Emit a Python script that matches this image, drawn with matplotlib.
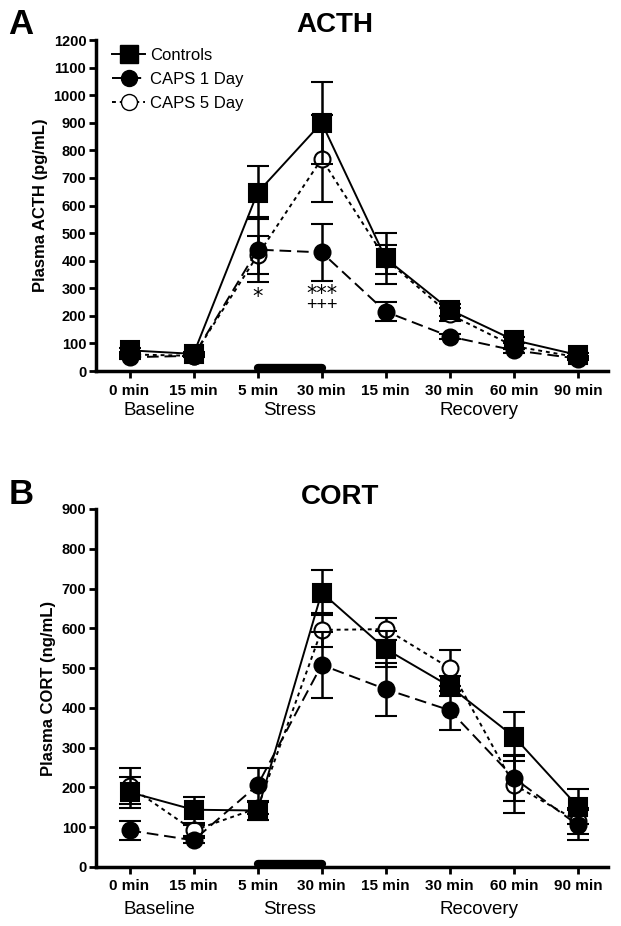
import matplotlib.pyplot as plt
from matplotlib.lines import Line2D

plt.rcParams['font.family'] = ['Liberation Sans', 'DejaVu Sans']

# sample times and phase labels
timepoints = ["0 min", "15 min", "5 min", "30 min", "15 min", "30 min", "60 min", "90 min"]
phases = ["Baseline", "Stress", "Recovery"]
phase_pos = [0.47, 2.5, 5.46]
stress_span = [2, 3]

# ACTH (pg/mL)
acth_ctrl = [75, 62, 647, 900, 408, 222, 112, 58]
acth_ctrl_err = [10, 6, 97, 149, 93, 22, 12, 8]
acth_caps1 = [50, 55, 440, 430, 215, 125, 75, 45]
acth_caps1_err = [8, 6, 118, 103, 35, 10, 8, 5]
acth_caps5 = [60, 55, 420, 769, 405, 205, 90, 50]
acth_caps5_err = [8, 6, 70, 158, 52, 25, 10, 6]

# CORT (ng/mL)
cort_ctrl = [188, 144, 142, 690, 548, 454, 328, 152]
cort_ctrl_err = [39, 33, 25, 57, 46, 25, 61, 45]
cort_caps1 = [92, 67, 206, 508, 447, 394, 224, 105]
cort_caps1_err = [24, 6, 43, 84, 67, 49, 57, 38]
cort_caps5 = [203, 92, 148, 596, 598, 500, 207, 115]
cort_caps5_err = [45, 14, 15, 42, 27, 46, 71, 33]

W, H = 621, 926
fig = plt.figure(figsize=(W / 100, H / 100), dpi=100)

xtick_font = dict(weight='bold', size=11)
ytick_font = dict(weight='bold', size=10.5)


def panel(rect, series, ymax, ystep, ylabel, bar_y):
    ax = fig.add_axes(rect)
    x = list(range(len(timepoints)))
    styles = [
        dict(marker='o', mfc='white', ms=11.5, ls=(0, (2, 2)), zorder=3),
        dict(marker='o', mfc='black', ms=11.5, ls=(0, (6, 3)), zorder=4),
        dict(marker='s', mfc='black', ms=13, ls='-', zorder=5),
    ]
    for (y, err), st in zip(series, styles):
        ax.errorbar(x, y, yerr=err, color='black', ecolor='black', elinewidth=1.8,
                    capsize=8, capthick=1.8, lw=1.4, mec='black', mew=1.5, **st)
    ax.plot(stress_span, [bar_y, bar_y], color='black', lw=6, solid_capstyle='round',
            clip_on=False, zorder=6)
    ax.set_xlim(-0.523, 7.47)
    ax.set_ylim(0, ymax)
    ax.set_yticks(range(0, ymax + 1, ystep))
    ax.set_xticks(x)
    ax.set_xticklabels(timepoints, fontdict=xtick_font)
    for lab in ax.get_yticklabels():
        lab.set(**ytick_font)
    ax.spines['top'].set_visible(False)
    ax.spines['right'].set_visible(False)
    ax.spines['left'].set_linewidth(2.5)
    ax.spines['bottom'].set_linewidth(2.5)
    ax.tick_params(direction='out', length=5, width=2, pad=2)
    ax.tick_params(axis='x', pad=4)
    ax.set_ylabel(ylabel, fontsize=12, fontweight='bold', labelpad=4)
    for p, name in zip(phase_pos, phases):
        ax.text(p, -0.12, name, transform=ax.get_xaxis_transform(), ha='center', va='center',
                fontsize=13.5)
    return ax


axA = panel([96 / W, 1 - 371 / H, 512 / W, 331 / H],
            [(acth_caps5, acth_caps5_err), (acth_caps1, acth_caps1_err), (acth_ctrl, acth_ctrl_err)],
            1200, 100, "Plasma ACTH (pg/mL)", 12)
axB = panel([96 / W, 1 - 867 / H, 512 / W, 358 / H],
            [(cort_caps5, cort_caps5_err), (cort_caps1, cort_caps1_err), (cort_ctrl, cort_ctrl_err)],
            900, 100, "Plasma CORT (ng/mL)", 8)

# significance marks
axA.text(2, 268, "*", ha='center', va='center', fontsize=15, family='DejaVu Sans')
axA.text(3, 280, "***", ha='center', va='center', fontsize=15, family='DejaVu Sans')
axA.text(3, 236, "+++", ha='center', va='center', fontsize=13)

handles = [
    Line2D([], [], color='black', lw=1.4, marker='s', ms=13, mfc='black', mec='black'),
    Line2D([], [], color='black', lw=1.4, ls=(0, (6, 3)), marker='o', ms=11.5, mfc='black', mec='black'),
    Line2D([], [], color='black', lw=1.4, ls=(0, (2, 2)), marker='o', ms=11.5, mfc='white', mec='black'),
]
axA.legend(handles, ["Controls", "CAPS 1 Day", "CAPS 5 Day"], loc='upper left',
           bbox_to_anchor=(0.031, 0.975), frameon=False, fontsize=12, handlelength=2,
           handletextpad=0.3, labelspacing=0.52, borderpad=0, borderaxespad=0)

fig.text(335 / W, 1 - 25 / H, "ACTH", ha='center', va='center', fontsize=20, fontweight='bold')
fig.text(340 / W, 1 - 497 / H, "CORT", ha='center', va='center', fontsize=20, fontweight='bold')
fig.text(21 / W, 1 - 24 / H, "A", ha='center', va='center', fontsize=25, fontweight='bold')
fig.text(21 / W, 1 - 494 / H, "B", ha='center', va='center', fontsize=25, fontweight='bold')

fig.savefig("out.png", dpi=100)
